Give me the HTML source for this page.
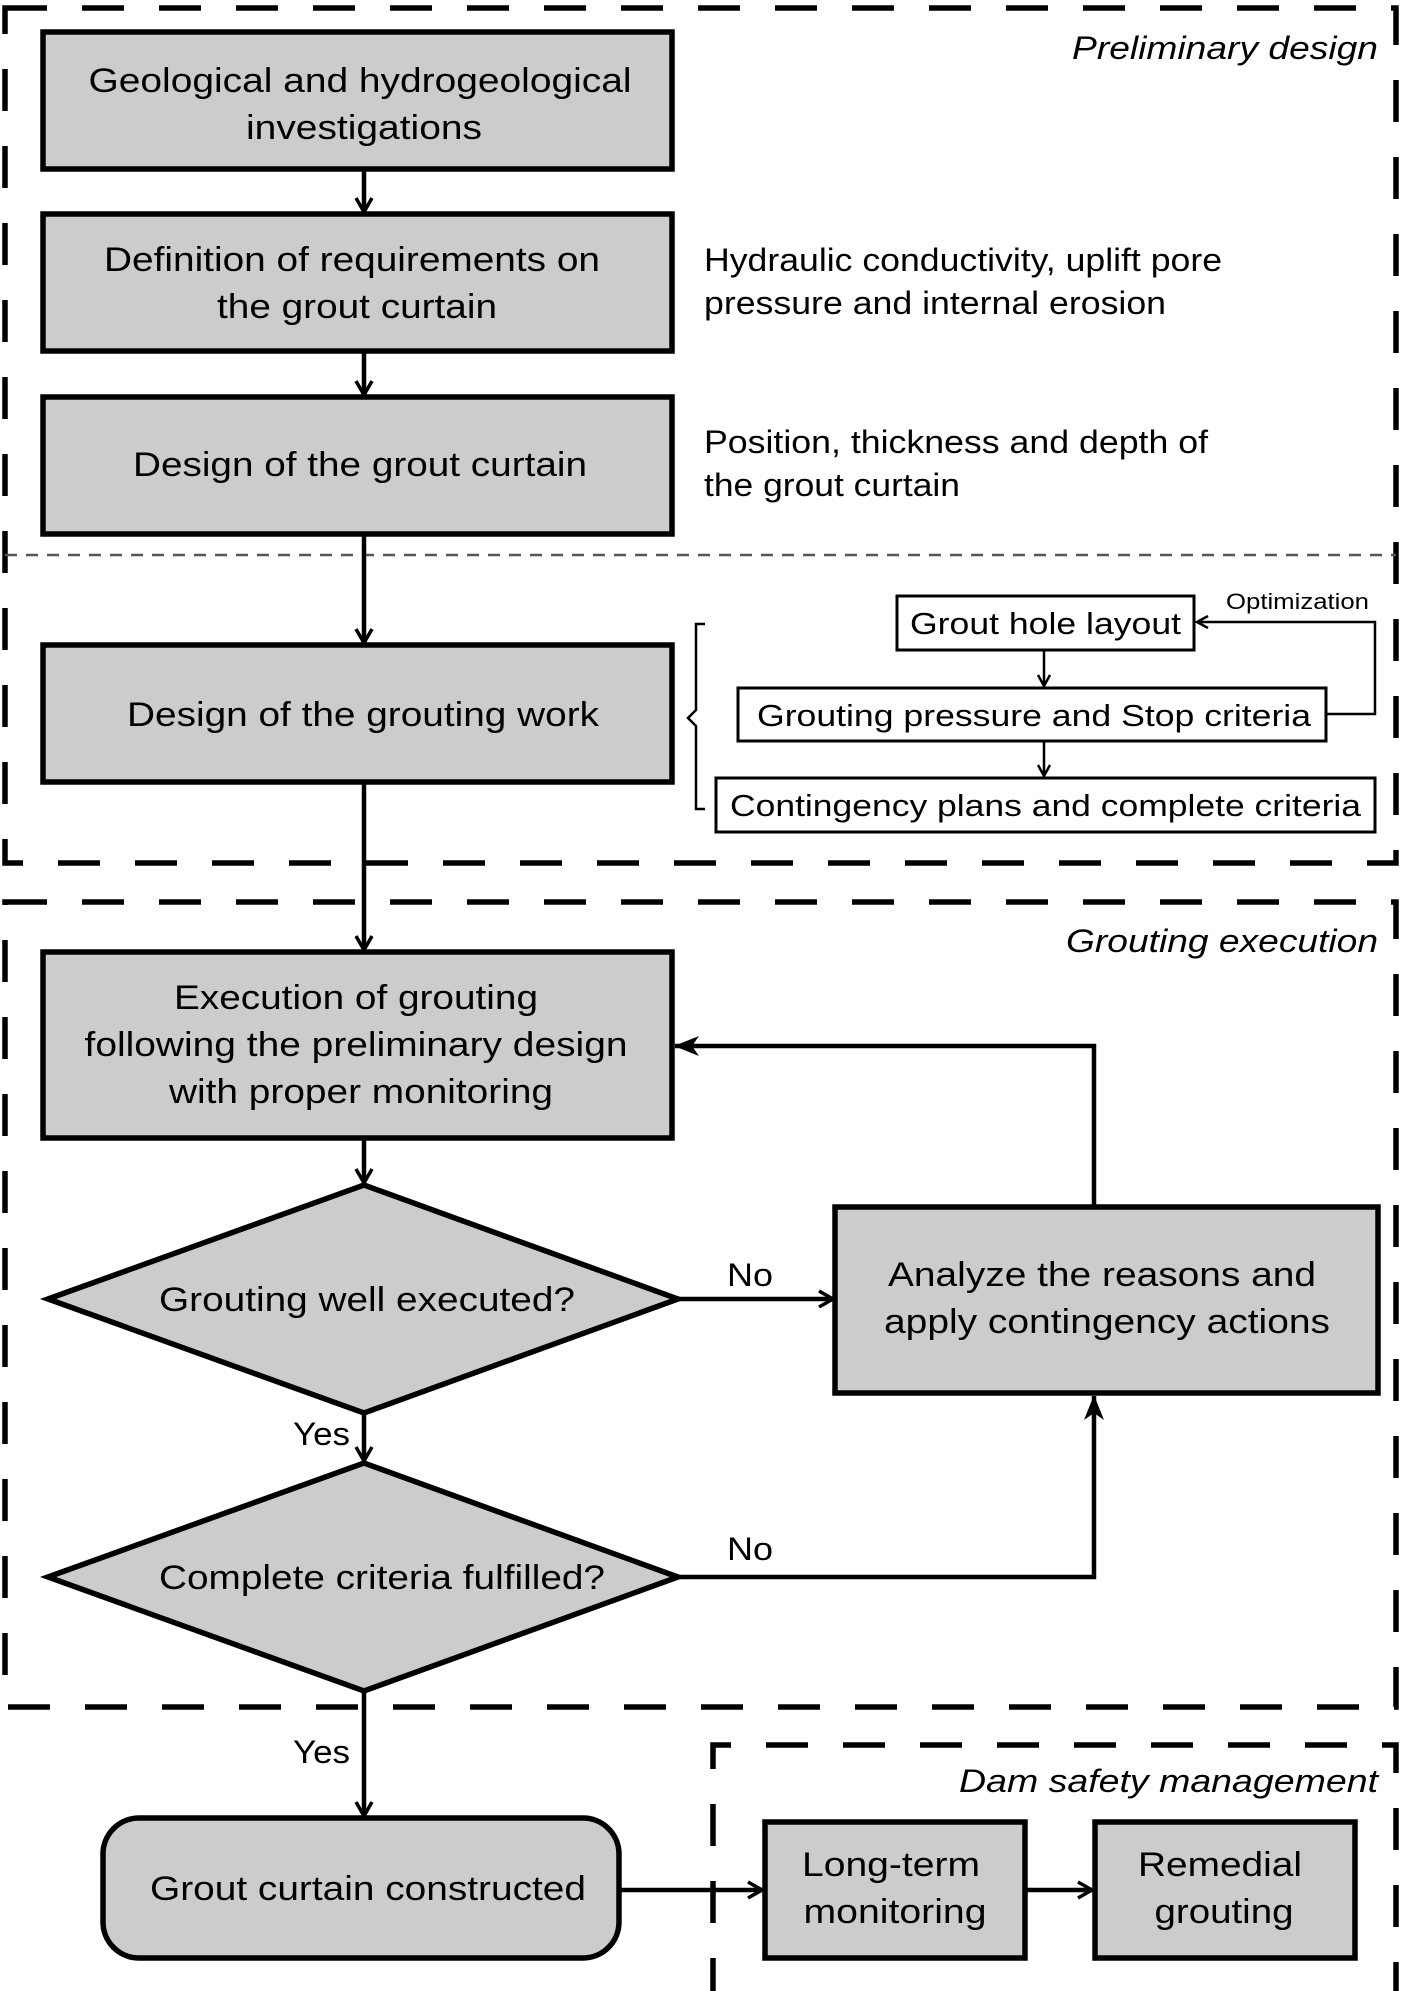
<!DOCTYPE html>
<html><head><meta charset="utf-8"><style>html,body{margin:0;padding:0;background:#fff}svg{display:block}</style></head>
<body>
<svg width="1402" height="1991" viewBox="0 0 1402 1991" xmlns="http://www.w3.org/2000/svg" font-family="'Liberation Sans', Arial, sans-serif">
<defs>
<marker id="a" markerWidth="18" markerHeight="20" refX="15" refY="10" orient="auto" markerUnits="userSpaceOnUse">
<polyline points="1,2 15,10 1,18" fill="none" stroke="#000" stroke-width="3.5"/></marker>
<marker id="s" markerWidth="14" markerHeight="14" refX="12" refY="7" orient="auto" markerUnits="userSpaceOnUse">
<polyline points="1,1 12,7 1,13" fill="none" stroke="#000" stroke-width="2.5"/></marker>
<marker id="f" markerWidth="26" markerHeight="22" refX="24" refY="11" orient="auto" markerUnits="userSpaceOnUse">
<polygon points="0,1 25,11 0,21 7,11" fill="#000"/></marker>
</defs>
<g fill="none" stroke="#000" stroke-width="5.5" stroke-dasharray="42 35">
<rect x="5" y="8" width="1391" height="855"/>
<rect x="5" y="902" width="1391" height="805"/>
<path d="M713 2000 V1745 H1396 V2000"/>
</g>
<line x1="5" y1="555" x2="1396" y2="555" stroke="#555" stroke-width="2.5" stroke-dasharray="12 9"/>
<g fill="#cccccc" stroke="#000" stroke-width="5.5">
<rect x="43" y="32" width="629" height="137"/>
<rect x="43" y="214" width="629" height="137"/>
<rect x="43" y="397" width="629" height="137"/>
<rect x="43" y="645" width="629" height="137"/>
<rect x="43" y="952" width="629" height="186"/>
<polygon points="48,1299 364,1185 678,1299 364,1413"/>
<polygon points="48,1577 364,1463 678,1577 364,1691"/>
<rect x="835" y="1207" width="543" height="186"/>
<rect x="103" y="1818" width="516" height="140" rx="36"/>
<rect x="765" y="1822" width="260" height="136"/>
<rect x="1095" y="1822" width="260" height="136"/>
</g>
<g fill="#fff" stroke="#000" stroke-width="3">
<rect x="897" y="596" width="297" height="54"/>
<rect x="738" y="688" width="588" height="53"/>
<rect x="716" y="778" width="659" height="54"/>
</g>
<g fill="none" stroke="#000" stroke-width="4.5">
<line x1="364" y1="169" x2="364" y2="212" marker-end="url(#a)"/>
<line x1="364" y1="351" x2="364" y2="395" marker-end="url(#a)"/>
<line x1="364" y1="534" x2="364" y2="643" marker-end="url(#a)"/>
<line x1="364" y1="782" x2="364" y2="950" marker-end="url(#a)"/>
<line x1="364" y1="1138" x2="364" y2="1183" marker-end="url(#a)"/>
<line x1="364" y1="1413" x2="364" y2="1461" marker-end="url(#a)"/>
<line x1="364" y1="1691" x2="364" y2="1816" marker-end="url(#a)"/>
<line x1="678" y1="1299" x2="833" y2="1299" marker-end="url(#a)"/>
<polyline points="1094,1207 1094,1046 675,1046" marker-end="url(#f)"/>
<polyline points="678,1577 1094,1577 1094,1396" marker-end="url(#f)"/>
<line x1="619" y1="1890" x2="762" y2="1890" marker-end="url(#a)"/>
<line x1="1025" y1="1890" x2="1092" y2="1890" marker-end="url(#a)"/>
</g>
<g fill="none" stroke="#000" stroke-width="2.5">
<line x1="1044" y1="650" x2="1044" y2="686" marker-end="url(#s)"/>
<line x1="1044" y1="741" x2="1044" y2="776" marker-end="url(#s)"/>
<polyline points="1326,714 1375,714 1375,622 1197,622" marker-end="url(#s)"/>
<path d="M705 624 H696 V710 L688 718 L696 726 V809 H705"/>
</g>
<g font-size="34" text-anchor="middle" fill="#000">
<text x="360" y="92" textLength="543" lengthAdjust="spacingAndGlyphs">Geological and hydrogeological</text>
<text x="364" y="139" textLength="236" lengthAdjust="spacingAndGlyphs">investigations</text>
<text x="352" y="271" textLength="496" lengthAdjust="spacingAndGlyphs">Definition of requirements on</text>
<text x="357" y="318" textLength="280" lengthAdjust="spacingAndGlyphs">the grout curtain</text>
<text x="360" y="476" textLength="454" lengthAdjust="spacingAndGlyphs">Design of the grout curtain</text>
<text x="363" y="726" textLength="472" lengthAdjust="spacingAndGlyphs">Design of the grouting work</text>
<text x="356" y="1009" textLength="364" lengthAdjust="spacingAndGlyphs">Execution of grouting</text>
<text x="356" y="1056" textLength="543" lengthAdjust="spacingAndGlyphs">following the preliminary design</text>
<text x="361" y="1103" textLength="384" lengthAdjust="spacingAndGlyphs">with proper monitoring</text>
<text x="367" y="1311" textLength="416" lengthAdjust="spacingAndGlyphs">Grouting well executed?</text>
<text x="382" y="1589" textLength="446" lengthAdjust="spacingAndGlyphs">Complete criteria fulfilled?</text>
<text x="1102" y="1286" textLength="428" lengthAdjust="spacingAndGlyphs">Analyze the reasons and</text>
<text x="1107" y="1333" textLength="446" lengthAdjust="spacingAndGlyphs">apply contingency actions</text>
<text x="368" y="1900" textLength="436" lengthAdjust="spacingAndGlyphs">Grout curtain constructed</text>
<text x="891" y="1876" textLength="178" lengthAdjust="spacingAndGlyphs">Long-term</text>
<text x="895" y="1923" textLength="183" lengthAdjust="spacingAndGlyphs">monitoring</text>
<text x="1220" y="1876" textLength="164" lengthAdjust="spacingAndGlyphs">Remedial</text>
<text x="1224" y="1923" textLength="139" lengthAdjust="spacingAndGlyphs">grouting</text>
</g>
<g font-size="32" fill="#000">
<text x="704" y="271" textLength="518" lengthAdjust="spacingAndGlyphs">Hydraulic conductivity, uplift pore</text>
<text x="704" y="314" textLength="462" lengthAdjust="spacingAndGlyphs">pressure and internal erosion</text>
<text x="704" y="453" textLength="504" lengthAdjust="spacingAndGlyphs">Position, thickness and depth of</text>
<text x="704" y="496" textLength="256" lengthAdjust="spacingAndGlyphs">the grout curtain</text>
<text x="727" y="1286" textLength="46" lengthAdjust="spacingAndGlyphs">No</text>
<text x="727" y="1560" textLength="46" lengthAdjust="spacingAndGlyphs">No</text>
<text x="293" y="1445" textLength="57" lengthAdjust="spacingAndGlyphs">Yes</text>
<text x="293" y="1763" textLength="57" lengthAdjust="spacingAndGlyphs">Yes</text>
</g>
<g font-size="31" fill="#000">
<text x="910" y="634" textLength="271" lengthAdjust="spacingAndGlyphs">Grout hole layout</text>
<text x="757" y="726" textLength="554" lengthAdjust="spacingAndGlyphs">Grouting pressure and Stop criteria</text>
<text x="730" y="816" textLength="631" lengthAdjust="spacingAndGlyphs">Contingency plans and complete criteria</text>
</g>
<text x="1226" y="609" font-size="22" textLength="143" lengthAdjust="spacingAndGlyphs">Optimization</text>
<g font-size="32" font-style="italic" fill="#000">
<text x="1072" y="59" textLength="306" lengthAdjust="spacingAndGlyphs">Preliminary design</text>
<text x="1066" y="952" textLength="312" lengthAdjust="spacingAndGlyphs">Grouting execution</text>
<text x="959" y="1792" textLength="419" lengthAdjust="spacingAndGlyphs">Dam safety management</text>
</g>
</svg>
</body></html>
